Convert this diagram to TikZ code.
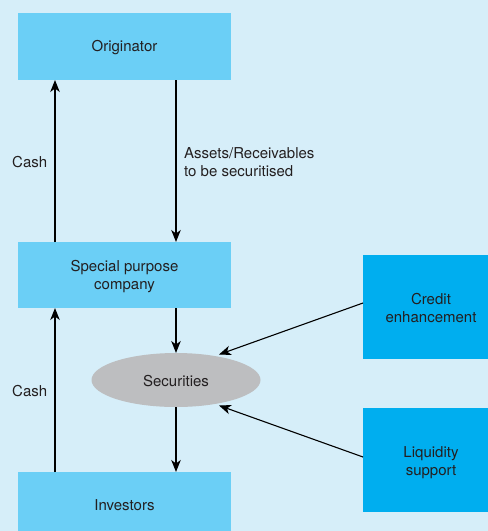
\documentclass[tikz,border=0pt]{standalone}
\usepackage{fontspec}
\setmainfont{TeX Gyre Heros}
\usetikzlibrary{shapes.geometric,arrows.meta}
\definecolor{bgblue}{HTML}{D6EEF9}
\definecolor{lbox}{HTML}{6BCFF6}
\definecolor{dbox}{HTML}{00AEEF}
\definecolor{ellgray}{HTML}{BDBEC0}
\definecolor{txt}{HTML}{231F20}
\tikzset{
  lbx/.style={fill=lbox, draw=none, minimum width=213pt, inner sep=0pt},
  dbx/.style={fill=dbox, draw=none, minimum width=135pt, minimum height=104pt, inner sep=0pt},
  lbl/.style={text=txt, font=\fontsize{15}{18.5}\selectfont, inner sep=0pt, align=center}
}
\tikzset{arr/.style={draw=black, line width=1.1pt, -{Stealth[length=12pt,width=9.5pt,inset=3.5pt]}}}
\begin{document}
\begin{tikzpicture}[x=1pt,y=-1pt]
\fill[bgblue] (0,0) rectangle (488,531);
\useasboundingbox (0,0) rectangle (488,531);
\node[lbx, minimum height=67pt] (orig) at (124.5,46.5) {};
\node[lbl] (origt) at (124.5,47.5) {Originator};
\node[lbx, minimum height=66pt] (spc) at (124.5,275) {};
\node[lbl] (spct) at (124.5,276.5) {Special purpose\\company};
\node[lbx, minimum height=59pt, anchor=north] (inv) at (124.5,472) {};
\node[lbl] (invt) at (124.5,505) {Investors};
\node[ellipse, fill=ellgray, minimum width=169pt, minimum height=54pt, inner sep=0pt] (sec) at (176,380) {};
\node[lbl] (sect) at (176,381) {Securities};
\node[dbx, anchor=north west] (cred) at (363,255) {};
\node[lbl] (credt) at (431,308) {Credit\\enhancement};
\node[dbx, anchor=north west] (liq) at (363,408) {};
\node[lbl] (liqt) at (431,462.5) {Liquidity\\support};
\coordinate (o1) at (55,80);
\coordinate (s1) at (55,242);
\coordinate (o2) at (176,80);
\coordinate (s2) at (176,242);
\coordinate (s3) at (176,308);
\coordinate (s4) at (55,308);
\coordinate (i1) at (55,472);
\coordinate (i2) at (176,472);
\coordinate (e1) at (176,353);
\coordinate (e2) at (176,407);
\coordinate (c1) at (363,303);
\coordinate (c2) at (219,354.5);
\coordinate (l1) at (363,457);
\coordinate (l2) at (219,405.5);
\draw[arr] (s1) -- (o1);
\draw[arr] (o2) -- (s2);
\draw[arr] (s3) -- (e1);
\draw[arr] (e2) -- (i2);
\draw[arr] (i1) -- (s4);
\draw[arr] (c1) -- (c2);
\draw[arr] (l1) -- (l2);
\node[lbl, anchor=west] (cash1) at (12,162) {Cash};
\node[lbl, anchor=west] (cash2) at (12,391) {Cash};
\node[lbl, anchor=north west, align=left] (assets) at (184,147) {Assets/Receivables\\to be securitised};
\end{tikzpicture}
\end{document}
